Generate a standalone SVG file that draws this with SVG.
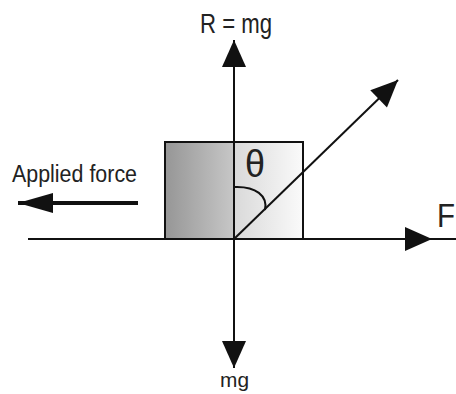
<svg xmlns="http://www.w3.org/2000/svg" width="456" height="394" viewBox="0 0 456 394">
<defs>
<linearGradient id="boxGrad" x1="0" y1="0" x2="1" y2="0">
<stop offset="0" stop-color="#969696"/>
<stop offset="0.49" stop-color="#c6c6c6"/>
<stop offset="0.51" stop-color="#dadada"/>
<stop offset="1" stop-color="#fafafa"/>
</linearGradient>
<marker id="arrow" markerUnits="userSpaceOnUse" markerWidth="28" markerHeight="24" refX="27" refY="12" orient="auto" overflow="visible">
<path d="M0,0 L27,12 L0,24 Z" fill="#111"/>
</marker>
<marker id="arrowSmall" markerUnits="userSpaceOnUse" markerWidth="35" markerHeight="20" refX="35" refY="10" orient="auto" overflow="visible">
<path d="M0,0 L35,10 L0,20 Z" fill="#111"/>
</marker>
</defs>
<style>
.line{stroke:#111;stroke-width:2;fill:none}
.lbl{font-family:"Liberation Sans",Arial,sans-serif;fill:#222}
</style>
<rect width="456" height="394" fill="#fff"/>
<g id="block">
<rect x="165" y="142" width="138" height="97" fill="url(#boxGrad)" stroke="#111" stroke-width="2"/>
</g>
<g id="connectors">
<line class="line" x1="28" y1="239" x2="432" y2="239" marker-end="url(#arrow)"/>
<line class="line" x1="432" y1="239" x2="456" y2="239"/>
<line class="line" x1="234" y1="239" x2="234" y2="40" marker-end="url(#arrow)"/>
<line class="line" x1="234" y1="239" x2="234" y2="368" marker-end="url(#arrow)"/>
<line class="line" x1="234" y1="239" x2="398" y2="80" marker-end="url(#arrow)"/>
<line x1="138" y1="203" x2="18" y2="203" stroke="#111" stroke-width="4" marker-end="url(#arrowSmall)"/>
<path class="line" d="M234,187 C256,186 268,196 265,210"/>
</g>
<g id="label-R">
<text class="lbl" x="200" y="33" font-size="28" textLength="72" lengthAdjust="spacingAndGlyphs">R = mg</text>
</g>
<g id="label-mg">
<text class="lbl" x="220" y="387" font-size="20" textLength="29" lengthAdjust="spacingAndGlyphs">mg</text>
</g>
<g id="label-F">
<text class="lbl" x="437" y="227" font-size="33" textLength="18" lengthAdjust="spacingAndGlyphs">F</text>
</g>
<g id="label-applied">
<text class="lbl" x="12" y="182" font-size="23" textLength="125" lengthAdjust="spacingAndGlyphs">Applied force</text>
</g>
<g id="label-theta">
<text class="lbl" x="245" y="177" font-size="38" textLength="20" lengthAdjust="spacingAndGlyphs">θ</text>
</g>
</svg>
